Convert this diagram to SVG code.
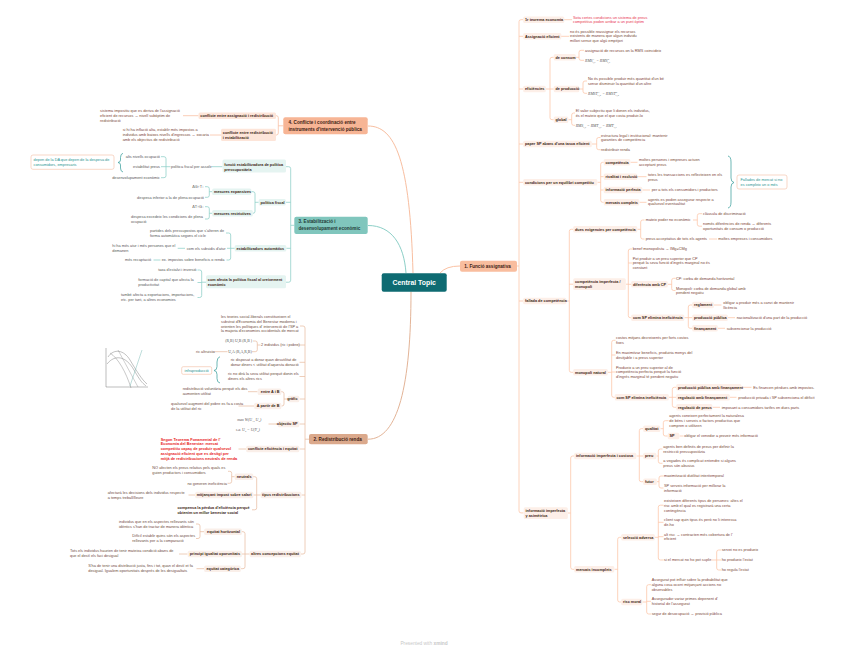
<svg xmlns="http://www.w3.org/2000/svg" width="848" height="650" viewBox="0 0 848 650">
<style>
text{font-family:"Liberation Sans",Arial,sans-serif;}
.lf{font-size:3.85px;fill:#7b4636;}
.lf2{font-size:3.85px;fill:#6e4c40;}
.lf3{font-size:3.85px;fill:#575757;}
.lb{font-size:3.8px;font-weight:bold;fill:#3a1d12;}
.red{font-size:3.85px;fill:#e8354f;}
.red2{font-size:3.85px;font-weight:bold;fill:#e8231c;}
.tl{font-size:3.85px;fill:#2a9490;}
.m{font-family:"Liberation Serif","Times New Roman",serif;font-size:3.9px;font-style:italic;fill:#555;}
.mr{font-family:"Liberation Serif","Times New Roman",serif;font-size:3.9px;fill:#555;}
.nt{font-size:4.6px;font-weight:bold;fill:#3d2014;}
.e{text-anchor:end;}
.c1{fill:none;stroke:#fcc4a5;stroke-width:.75;}
.c2{fill:none;stroke:#e8bea3;stroke-width:.75;}
.c3{fill:none;stroke:#8ccfc7;stroke-width:.75;}
.c4{fill:none;stroke:#f8bea0;stroke-width:.75;}
.br{fill:none;stroke:#2f9a96;stroke-width:.7;}
.bg1{fill:#fdefe8;}
.bg2{fill:#faefe9;}
.bg3{fill:#e5f4f1;}
.bg4{fill:#fde5d9;}
.co{fill:#fff;stroke:#f3bda2;stroke-width:.6;}
</style>
<rect width="848" height="650" fill="#fff"/>

<g id="connectors">
<!-- main curves -->
<path d="M440,273 Q446,266 460,266" fill="none" stroke="#fbc2a4" stroke-width="1"/>
<path d="M368,126 C395,126 410,160 413,273" fill="none" stroke="#f8bea0" stroke-width="1"/>
<path d="M368,225.5 C392,225.5 404,245 406,273" fill="none" stroke="#8ccfc7" stroke-width="1"/>
<path d="M411,291.5 C411,385 398,439.2 368,439.2" fill="none" stroke="#e3b497" stroke-width="1"/>

<!-- branch 1 -->
<path class="c1" d="M523,19.7H521Q519,19.7 519,21.7V510.9Q519,512.9 521,512.9H523.5M519,36.3H523M519,89H523M519,144H523M519,182.3H523M519,301H523M517,266H519"/>
<path class="c1" d="M563,19.7H572M560,36.3H569"/>
<path class="c1" d="M545.5,89H550M553.7,57.3H552Q550,57.3 550,59.3V117.7Q550,119.7 552,119.7H553.7M550,89H553.7"/>
<path class="c1" d="M576,57.3H579M584,50.3H581Q579,50.3 579,52.3V58.3Q579,60.3 581,60.3H584"/>
<path class="c1" d="M579.5,89H583M587,81H585Q583,81 583,83V91.3Q583,93.3 585,93.3H587"/>
<path class="c1" d="M568.5,119.7H571.7M575,113H573.7Q571.7,113 571.7,115V123.3Q571.7,125.3 573.7,125.3H575"/>
<path class="c1" d="M592,144H596.7M600.5,137.5H598.7Q596.7,137.5 596.7,139.5V147.7Q596.7,149.7 598.7,149.7H600.5"/>
<path class="c1" d="M597.5,182.3H600.7M603.7,162.3H602.7Q600.7,162.3 600.7,164.3V200.3Q600.7,202.3 602.7,202.3H603.7M600.7,176.7H603.7M600.7,190H603.7"/>
<path class="c1" d="M630.5,162.3H637.5M637.5,176.7H646.5M642.5,190H650M639.5,202.3H646.5"/>
<path class="c1" d="M566.5,301H569.3M573.2,229.3H571.3Q569.3,229.3 569.3,231.3V370.3Q569.3,372.3 571.3,372.3H573.2M569.3,284.2H573.2"/>
<path class="c1" d="M637.5,229.3H640.7M644.5,220H642.7Q640.7,220 640.7,222V237Q640.7,239 642.7,239H644.5"/>
<path class="c1" d="M693,220H697.3M702,213.7H699.3Q697.3,213.7 697.3,215.7V224.2Q697.3,226.2 699.3,226.2H702M709,239H717"/>
<path class="c1" d="M626,284.2H628.3M632,249H630.3Q628.3,249 628.3,251V315.7Q628.3,317.7 630.3,317.7H631.2M628.3,263H632M628.3,284.3H631.2"/>
<path class="c1" d="M668,284.3H671.7M675.5,278.3H673.7Q671.7,278.3 671.7,280.3V288.5Q671.7,290.5 673.7,290.5H675.5"/>
<path class="c1" d="M684.5,317.7H688.3M692.2,305H690.3Q688.3,305 688.3,307V326.3Q688.3,328.3 690.3,328.3H692.2M688.3,317.7H692.2"/>
<path class="c1" d="M714,305H721.5M728,317.7H735M718,328.3H725"/>
<path class="c1" d="M608,372.3H611.7M615.5,340.3H613.7Q611.7,340.3 611.7,342.3V395.3Q611.7,397.3 613.7,397.3H614.7M611.7,355H615.5M611.7,372H615.5"/>
<path class="c1" d="M669,397.3H672.3M676.2,387.3H674.3Q672.3,387.3 672.3,389.3V405.3Q672.3,407.3 674.3,407.3H676.2M672.3,397.3H676.2"/>
<path class="c1" d="M741.5,387.3H751.5M730,397.3H736.5M712.5,407.3H720"/>
<path class="c1" d="M568,513H570.7M574.2,456H572.7Q570.7,456 570.7,458V567.3Q570.7,569.3 572.7,569.3H574.2"/>
<path class="c1" d="M636.5,456H639.3M643.2,428.7H641.3Q639.3,428.7 639.3,430.7V479.7Q639.3,481.7 641.3,481.7H643.2M639.3,456H643.2"/>
<path class="c1" d="M660.5,428.7H663.3M668.5,420.7H665.3Q663.3,420.7 663.3,422.7V434Q663.3,436 665.3,436H667.7M679.5,436H683.5"/>
<path class="c1" d="M656.5,456H658.3M662.5,449H660.3Q658.3,449 658.3,451V461.3Q658.3,463.3 660.3,463.3H662.5"/>
<path class="c1" d="M657,481.7H659M663.5,476H661Q659,476 659,478V486Q659,488 661,488H663.5"/>
<path class="c1" d="M614.5,569.3H617.7M621.2,537.3H619.7Q617.7,537.3 617.7,539.3V600Q617.7,602 619.7,602H621.2"/>
<path class="c1" d="M655,537.3H658.3M663.5,505.2H660.3Q658.3,505.2 658.3,507.2V558Q658.3,560 660.3,560H663.5M658.3,522.3H663.5M658.3,536.7H663.5"/>
<path class="c1" d="M710,560H716.7M721,550H718.7Q716.7,550 716.7,552V568Q716.7,570 718.7,570H721M716.7,560H721"/>
<path class="c1" d="M642.5,602H646.7M651,584.7H648.7Q646.7,584.7 646.7,586.7V612Q646.7,614 648.7,614H651M646.7,601.3H651"/>

<!-- branch 2 -->
<path class="c2" d="M300,326H303Q305,326 305,328V552Q305,554 303,554H301M305,345H297.5M305,362.3H299.5M305,376.5H299.5M305,399H299.5M305,424H299.5M305,449H299.5M305,495H301.5M309,439.2H305"/>
<path class="c2" d="M253,341H255.3Q257.3,341 257.3,343V349.7Q257.3,351.7 255.3,351.7H252M257.3,345H260.5M213.5,351.7H227.5"/>
<path class="c2" d="M287.7,399H284M280.5,391.7H282Q284,391.7 284,393.7V404Q284,406 282,406H281.5M248,391.7H257.5M238.5,406H254"/>
<path class="c2" d="M268.5,424H277.5M238.5,449H246"/>
<path class="c2" d="M260.7,495H256.7M253,476.7H254.7Q256.7,476.7 256.7,478.7V507.8Q256.7,509.8 254.7,509.8H252M256.7,495H253.5"/>
<path class="c2" d="M234.7,476.7H231.7M228,471.3H229.7Q231.7,471.3 231.7,473.3V481.3Q231.7,483.3 229.7,483.3H227.5M188.5,495H195"/>
<path class="c2" d="M249.7,554H245M241.5,531.7H243Q245,531.7 245,533.7V566.7Q245,568.7 243,568.7H241M245,554H241.5"/>
<path class="c2" d="M204.2,531.7H200M196,524H198Q200,524 200,526V536.5Q200,538.5 198,538.5H196M179,554H187.5M196.5,568.7H204"/>

<!-- branch 3 -->
<path class="c3" d="M294.3,225.3H290.7M286,166.7H288.7Q290.7,166.7 290.7,168.7V280.2Q290.7,282.2 288.7,282.2H286M290.7,202.3H286M290.7,248.3H286.3"/>
<path class="c3" d="M222.5,166.7H212M170.5,166.7H166M161,156.7H164Q166,156.7 166,158.7V175.7Q166,177.7 164,177.7H161M166,166.7H161"/>
<path class="c3" d="M258.7,202.3H255M251.3,191.7H253Q255,191.7 255,193.7V211.3Q255,213.3 253,213.3H252.8"/>
<path class="c3" d="M212.2,191.7H209.3M205,186.7H207.3Q209.3,186.7 209.3,188.7V195.3Q209.3,197.3 207.3,197.3H205"/>
<path class="c3" d="M212.2,213.3H209.3M205,206.7H207.3Q209.3,206.7 209.3,208.7V217Q209.3,219 207.3,219H205"/>
<path class="c3" d="M234.7,248.3H230.7M226,233H228.7Q230.7,233 230.7,235V258Q230.7,260 228.7,260H226.5M230.7,248.3H227M177.7,248.3H185M153.5,260H160.5"/>
<path class="c3" d="M206,282.2H201.7M197.5,270H199.7Q201.7,270 201.7,272V295.5Q201.7,297.5 199.7,297.5H197.5M201.7,282.5H197.5"/>

<!-- branch 4 -->
<path class="c4" d="M283.3,125.8H278.3M276,115.7H276.3Q278.3,115.7 278.3,117.7V133Q278.3,135 276.3,135H276M198.5,115.7H183M221,135H210"/>

<!-- braces -->
<path class="br" d="M123,153.3Q120.5,153.8 120.5,157.5V160Q120.5,162.3 118,162.5Q120.5,162.7 120.5,165V168Q120.5,171.5 123,172"/>
<path class="br" d="M728,156Q731,156.5 731,162V178Q731,182 734,182.5Q731,183 731,187V202Q731,207.5 728,208"/>
<path class="br" d="M220,356.7Q217,357.5 217,362V366.5Q217,370.3 214,370.5Q217,370.7 217,374.5V378.5Q217,382.5 220,383"/>
</g>

<g id="central">
<rect x="381.7" y="273.3" width="65" height="18.4" rx="2" fill="#0e6b72"/>
<text x="414.2" y="284.8" text-anchor="middle" style="font-size:6.9px;font-weight:bold;fill:#fff">Central Topic</text>
</g>

<g id="node1">
<rect x="460" y="260.7" width="57" height="11" rx="2" fill="#f9bd9e"/>
<text class="nt" x="464.3" y="268.3">1. Funció assignativa</text>
</g>
<g id="node2">
<rect x="309" y="434" width="58.7" height="10.3" rx="2" fill="#dba98c"/>
<text class="nt" x="313.5" y="440.9">2. Redistribució renda</text>
</g>
<g id="node3">
<rect x="294.3" y="216.7" width="73.4" height="17.3" rx="2" fill="#80c6bd"/>
<text class="nt" x="298.5" style="fill:#1f3a37"><tspan x="298.5" y="223.3">3. Estabilització i</tspan><tspan x="298.5" y="229.5">desenvolupament econòmic</tspan></text>
</g>
<g id="node4">
<rect x="283.3" y="117.3" width="84.4" height="17" rx="2" fill="#f7b595"/>
<text class="nt"><tspan x="288.5" y="124.3">4. Conflicte i coordinació entre</tspan><tspan x="288.5" y="130.7">instruments d'intervenció pública</tspan></text>
</g>

<g id="branch1">
<rect class="bg1" x="523.2" y="16.5" width="41.1" height="6.4" rx="1.5"/><text class="lb" x="525" y="21.1">1r teorema economia</text>
<text class="red"><tspan x="573" y="18.7">Sota certes condicions un sistema de preus</tspan><tspan x="573" y="23.4">competitius poden arribar a un punt òptim</tspan></text>
<rect class="bg1" x="523.2" y="33.1" width="38.1" height="6.4" rx="1.5"/><text class="lb" x="525" y="37.7">Assignació eficient</text>
<text class="lf"><tspan x="570" y="32.7">no és possible reassignar els recursos</tspan><tspan x="570" y="37.4">existents de manera que algun individu</tspan><tspan x="570" y="42.1">millori sense que algú empitjori</tspan></text>

<rect class="bg1" x="523.2" y="85.8" width="22.6" height="6.4" rx="1.5"/><text class="lb" x="525" y="90.4">eficiències</text>
<rect class="bg1" x="553.7" y="54.1" width="22.1" height="6.4" rx="1.5"/><text class="lb" x="555.5" y="58.7">de consum</text>
<text class="lf" x="585" y="51.7">assignació de recursos on la RMS coincideix</text>
<text class="m" x="585" y="61.7">RMS<tspan font-size="2.5" dy="-1.3">A</tspan><tspan font-size="2.5" dx="-1.7" dy="2.3">x,y</tspan><tspan dy="-1"> = RMS</tspan><tspan font-size="2.5" dy="-1.3">B</tspan><tspan font-size="2.5" dx="-1.7" dy="2.3">x,y</tspan></text>
<rect class="bg1" x="553.7" y="85.8" width="25.6" height="6.4" rx="1.5"/><text class="lb" x="555.5" y="90.4">de producció</text>
<text class="lf"><tspan x="588" y="80.1">No és possible produir més quantitat d'un bé</tspan><tspan x="588" y="84.8">sense disminuir la quantitat d'un altre</tspan></text>
<text class="m" x="588" y="94.7">RMST<tspan font-size="2.5" dy="-1.3">A</tspan><tspan font-size="2.5" dx="-1.7" dy="2.3">L,K</tspan><tspan dy="-1"> = RMST</tspan><tspan font-size="2.5" dy="-1.3">B</tspan><tspan font-size="2.5" dx="-1.7" dy="2.3">L,K</tspan></text>
<rect class="bg1" x="553.7" y="116.5" width="14.6" height="6.4" rx="1.5"/><text class="lb" x="555.5" y="121.1">global</text>
<text class="lf"><tspan x="575.7" y="112.1">El valor subjectiu que li donen els individus,</tspan><tspan x="575.7" y="116.8">és el mateix que el que costa produir-lo</tspan></text>
<text class="m" x="575.7" y="126.7">RMS<tspan font-size="2.5" dy="1">x,y</tspan><tspan dy="-1"> = RMT</tspan><tspan font-size="2.5" dy="1">x,y</tspan><tspan dy="-1"> = RMT</tspan><tspan font-size="2.5" dy="1">x,y</tspan></text>

<rect class="bg1" x="523.2" y="140.8" width="68.6" height="6.4" rx="1.5"/><text class="lb" x="525" y="145.4">paper SP abans d'una tasca eficient</text>
<text class="lf"><tspan x="601" y="136.7">estructura legal i institucional: mantenir</tspan><tspan x="601" y="141.4">garanties de competència</tspan><tspan x="601" y="151.1">redistribuir renda</tspan></text>

<rect class="bg1" x="523.2" y="179.1" width="74.1" height="6.4" rx="1.5"/><text class="lb" x="525" y="183.7">condicions per un equilibri competitiu</text>
<rect class="bg1" x="603.7" y="159.1" width="26.6" height="6.4" rx="1.5"/><text class="lb" x="605.5" y="163.7">competència</text>
<text class="lf"><tspan x="639" y="161.1">moltes persones i empreses actuen</tspan><tspan x="639" y="165.8">acceptant preus</tspan></text>
<rect class="bg1" x="603.7" y="173.5" width="33.6" height="6.4" rx="1.5"/><text class="lb" x="605.5" y="178.1">rivalitat i exclusió</text>
<text class="lf"><tspan x="648" y="176.4">totes les transaccions es reflecteixen en els</tspan><tspan x="648" y="181.1">preus</tspan></text>
<rect class="bg1" x="603.7" y="186.8" width="38.6" height="6.4" rx="1.5"/><text class="lb" x="605.5" y="191.4">informació perfecta</text>
<text class="lf" x="651.7" y="191.4">per a tots els consumidors i productors</text>
<rect class="bg1" x="603.7" y="199.1" width="35.6" height="6.4" rx="1.5"/><text class="lb" x="605.5" y="203.7">mercats complets</text>
<text class="lf"><tspan x="648" y="200.7">agents es poden assegurar respecte a</tspan><tspan x="648" y="205.4">qualsevol eventualitat</tspan></text>
<rect class="co" x="737" y="175" width="50" height="14" rx="2"/>
<text class="tl"><tspan x="740.5" y="181.2">Fallades de mercat si no</tspan><tspan x="740.5" y="185.9">es compleix un o més</tspan></text>

<rect class="bg1" x="523.2" y="297.8" width="43.1" height="6.4" rx="1.5"/><text class="lb" x="525" y="302.4">fallada de competència</text>
<rect class="bg1" x="573.2" y="226.1" width="64.1" height="6.4" rx="1.5"/><text class="lb" x="575" y="230.7">dues exigencies per competència</text>
<text class="lf" x="645.7" y="221.4">mateix poder no econòmic</text>
<text class="lf" x="703" y="215.1">clàusula de discriminació</text>
<text class="lf"><tspan x="703" y="225.4">només diferències de renda → diferents</tspan><tspan x="703" y="230.1">oportunitats de consum o producció</tspan></text>
<text class="lf" x="645.7" y="240.4">preus acceptatius de tots els agents</text>
<text class="lf" x="718.3" y="240.4">moltes empreses i consumidors</text>

<rect class="bg1" x="573.2" y="278.2" width="52.6" height="11.8" rx="1.5"/><text class="lb"><tspan x="575" y="283.1">competència imperfecta /</tspan><tspan x="575" y="288.1">monopoli</tspan></text>
<text class="lf" x="632.7" y="250.4">benef monopolista → IMg=CMg</text>
<text class="lf"><tspan x="632.7" y="259.7">Pot produir a un preu superior que CP</tspan><tspan x="632.7" y="264.4">perquè la seva funció d'ingrés marginal no és</tspan><tspan x="632.7" y="269.1">constant</tspan></text>
<rect class="bg1" x="631.2" y="281.1" width="36.6" height="6.4" rx="1.5"/><text class="lb" x="633" y="285.7">diferència amb CP</text>
<text class="lf" x="676" y="279.7">CP: corba de demanda horitzontal</text>
<text class="lf"><tspan x="676" y="289.7">Monopoli: corba de demanda global amb</tspan><tspan x="676" y="294.4">pendent negatiu</tspan></text>
<rect class="bg1" x="631.2" y="314.5" width="53.1" height="6.4" rx="1.5"/><text class="lb" x="633" y="319.1">com SP elimina ineficiència</text>
<rect class="bg1" x="692.2" y="301.8" width="21.6" height="6.4" rx="1.5"/><text class="lb" x="694" y="306.4">reglament</text>
<text class="lf"><tspan x="723.3" y="304.1">obligar a produir més a canvi de mantenir</tspan><tspan x="723.3" y="308.8">llicència</tspan></text>
<rect class="bg1" x="692.2" y="314.5" width="35.6" height="6.4" rx="1.5"/><text class="lb" x="694" y="319.1">producció pública</text>
<text class="lf" x="736.7" y="319.1">nacionalització d'una part de la producció</text>
<rect class="bg1" x="692.2" y="325.1" width="25.6" height="6.4" rx="1.5"/><text class="lb" x="694" y="329.7">finançament</text>
<text class="lf" x="726.7" y="329.7">subvencionar la producció</text>

<rect class="bg1" x="573.2" y="369.1" width="34.6" height="6.4" rx="1.5"/><text class="lb" x="575" y="373.7">monopoli natural</text>
<text class="lf"><tspan x="616" y="339.4">costos mitjans decreixents per forts costos</tspan><tspan x="616" y="344.1">fixes</tspan></text>
<text class="lf"><tspan x="616" y="354.1">En maximitzar beneficis, produiria menys del</tspan><tspan x="616" y="358.8">desitjable i a preus superior</tspan></text>
<text class="lf"><tspan x="616" y="368.7">Produeix a un preu superior al de</tspan><tspan x="616" y="373.4">competència perfecta perquè la funció</tspan><tspan x="616" y="378.1">d'ingrés marginal té pendent negatiu</tspan></text>
<rect class="bg1" x="614.7" y="394.1" width="54.1" height="6.4" rx="1.5"/><text class="lb" x="616.5" y="398.7">com SP elimina ineficiència</text>
<rect class="bg1" x="676.2" y="384.1" width="65.1" height="6.4" rx="1.5"/><text class="lb" x="678" y="388.7">producció pública amb finançament</text>
<text class="lf" x="753.3" y="388.7">Es financen pèrdues amb impostos.</text>
<rect class="bg1" x="676.2" y="394.1" width="53.6" height="6.4" rx="1.5"/><text class="lb" x="678" y="398.7">regulació amb finançament</text>
<text class="lf" x="738.3" y="398.7">producció privada i SP subvenciona el dèficit</text>
<rect class="bg1" x="676.2" y="404.1" width="36.1" height="6.4" rx="1.5"/><text class="lb" x="678" y="408.7">regulació de preus</text>
<text class="lf" x="721.7" y="408.7">imposant a consumidors tarifes en dues parts</text>

<rect class="bg1" x="523.7" y="507.2" width="44.1" height="11.8" rx="1.5"/><text class="lb"><tspan x="525.5" y="512.1">informació imperfecta</tspan><tspan x="525.5" y="517.1">y asimètrica</tspan></text>
<rect class="bg1" x="574.2" y="452.8" width="62.1" height="6.4" rx="1.5"/><text class="lb" x="576" y="457.4">informació imperfecta i costosa</text>
<rect class="bg1" x="643.2" y="425.5" width="17.1" height="6.4" rx="1.5"/><text class="lb" x="645" y="430.1">qualitat</text>
<text class="lf"><tspan x="669.3" y="417.4">agents coneixen perfectament la naturalesa</tspan><tspan x="669.3" y="422.1">de béns i serveis o factors productius que</tspan><tspan x="669.3" y="426.8">compren o utilitzen</tspan></text>
<rect class="bg1" x="667.7" y="432.8" width="11.6" height="6.4" rx="1.5"/><text class="lb" x="669.5" y="437.4">SP</text>
<text class="lf" x="684.3" y="437.4">obligar el venedor a proveir més informació</text>
<rect class="bg1" x="643.2" y="452.8" width="13.1" height="6.4" rx="1.5"/><text class="lb" x="645" y="457.4">preu</text>
<text class="lf"><tspan x="663.3" y="448.1">agents ben definits de preus per definir la</tspan><tspan x="663.3" y="452.8">restricció pressupostària</tspan></text>
<text class="lf"><tspan x="663.3" y="462.4">a vegades és complicat entendre si alguns</tspan><tspan x="663.3" y="467.1">preus són abusius</tspan></text>
<rect class="bg1" x="643.2" y="478.5" width="13.6" height="6.4" rx="1.5"/><text class="lb" x="645" y="483.1">futur</text>
<text class="lf" x="664" y="477.4">maximització dutilitat interitemporal</text>
<text class="lf"><tspan x="664" y="487.1">SP serveis informació per millorar la</tspan><tspan x="664" y="491.8">informació</tspan></text>

<rect class="bg1" x="574.2" y="566.1" width="40.1" height="6.4" rx="1.5"/><text class="lb" x="576" y="570.7">mercats incomplets</text>
<rect class="bg1" x="621.2" y="534.1" width="33.6" height="6.4" rx="1.5"/><text class="lb" x="623" y="538.7">selecció adversa</text>
<text class="lf"><tspan x="664" y="502.1">existeixen diferents tipus de persones: altes el</tspan><tspan x="664" y="506.8">risc amb el qual es registrarà una certa</tspan><tspan x="664" y="511.5">contingència</tspan></text>
<text class="lf"><tspan x="664" y="521.4">client sap quin tipus és però no li interessa</tspan><tspan x="664" y="526.1">dir-ho</tspan></text>
<text class="lf"><tspan x="664" y="535.7">alt risc → contracten més cobertura de l'</tspan><tspan x="664" y="540.4">eficient</tspan></text>
<text class="lf" x="664" y="561.4">si el mercat no ho pot suplir</text>
<text class="lf" x="721.7" y="551.4">servei no es produeix</text>
<text class="lf" x="721.7" y="561.4">ho produeix l'estat</text>
<text class="lf" x="721.7" y="571.4">ho regula l'estat</text>
<rect class="bg1" x="621.2" y="598.8" width="21.1" height="6.4" rx="1.5"/><text class="lb" x="623" y="603.4">risc moral</text>
<text class="lf"><tspan x="651.7" y="581.4">Assegurat pot influir sobre la probabilitat que</tspan><tspan x="651.7" y="586.1">alguna cosa ocorri mitjançant accions no</tspan><tspan x="651.7" y="590.8">observables</tspan></text>
<text class="lf"><tspan x="651.7" y="600.4">Assegurador variar primes depenent d'</tspan><tspan x="651.7" y="605.1">historial de l'assegurat</tspan></text>
<text class="lf" x="651.7" y="615.4">segur de desocupació → provisió pública</text>
</g>

<g id="branch2">
<text class="lf2"><tspan x="221" y="318.1">les teories social-liberals constitueixen el</tspan><tspan x="221" y="322.8">substrat d'Economia del Benestar moderna i</tspan><tspan x="221" y="327.5">orienten les polítiques d' intervenció de l'SP a</tspan><tspan x="221" y="332.2">la majoria d'economies occidentals de mercat</tspan></text>
<text class="lf2" x="261" y="346.4">2 individus (ric i pobre)</text>
<text class="mr e" x="252" y="342.4">(R,B)  U,B (R,B )</text>
<text class="lf2" x="196" y="353.1">ric altruista</text>
<text class="mr" x="228.3" y="353.1">U,A  (R,A,R,B)</text>
<text class="lf2"><tspan x="230.7" y="361.4">ric disposat a donar quan desutilitat de</tspan><tspan x="230.7" y="366.1">donar diners &lt; utilitat d'aquesta donació</tspan></text>
<rect class="co" x="181.7" y="366.7" width="30" height="7.6" rx="1.5"/>
<text class="tl" x="196.7" y="371.9" text-anchor="middle">infraproducció</text>
<text class="lf2"><tspan x="228" y="375.4">ric no dirà la seva utilitat perquè donin els</tspan><tspan x="228" y="380.1">diners els altres rics</tspan></text>

<rect class="bg2" x="287.7" y="395.8" width="11.6" height="6.4" rx="1.5"/><text class="lb e" x="297.5" y="400.4">gràfic</text>
<rect class="bg2" x="257.7" y="388.5" width="23.6" height="6.4" rx="1.5"/><text class="lb e" x="279.5" y="393.1">entre A i B</text>
<text class="lf2"><tspan x="182.7" y="390.1">redistribució voluntària perquè els dos</tspan><tspan x="182.7" y="394.8">aumenten utilitat</tspan></text>
<rect class="bg2" x="254.2" y="402.8" width="27.1" height="6.4" rx="1.5"/><text class="lb e" x="279.5" y="407.4">A partir de B</text>
<text class="lf2"><tspan x="171" y="404.8">qualsevol augment del pobre es fa a costa</tspan><tspan x="171" y="409.6">de la utilitat del ric</tspan></text>

<rect class="bg2" x="277.7" y="420.8" width="21.6" height="6.4" rx="1.5"/><text class="lb e" x="297.5" y="425.4">objectiu SP</text>
<text class="m" x="237.3" y="420.9">max W(U<tspan font-size="2.5" dy="1">A</tspan><tspan dy="-1">, U</tspan><tspan font-size="2.5" dy="1">B</tspan><tspan dy="-1">)</tspan></text>
<text class="m" x="235.7" y="430.5">s.a. U<tspan font-size="2.5" dy="1">2</tspan><tspan dy="-1"> = U(Y</tspan><tspan font-size="2.5" dy="1">B</tspan><tspan dy="-1">)</tspan></text>

<rect class="bg2" x="246.2" y="445.8" width="53.1" height="6.4" rx="1.5"/><text class="lb e" x="297.5" y="450.4">conflicte eficiència i equitat</text>
<text class="red2"><tspan x="160.7" y="440.7">Segon Teorema Fonamental de l'</tspan><tspan x="160.7" y="445.4">Economia del Benestar: mercat</tspan><tspan x="160.7" y="450.1">competitiu capaç de produir qualsevol</tspan><tspan x="160.7" y="454.8">assignació eficient que es desitgi per</tspan><tspan x="160.7" y="459.5">mitjà de redistribucions neutrals de renda</tspan></text>

<rect class="bg2" x="260.7" y="491.8" width="40.6" height="6.4" rx="1.5"/><text class="lb e" x="299.5" y="496.4">tipus redistribucions</text>
<rect class="bg2" x="234.7" y="473.5" width="18.6" height="6.4" rx="1.5"/><text class="lb e" x="251.5" y="478.1">neutrals</text>
<text class="lf2"><tspan x="152.3" y="469.4">NO afecten els preus relatius pels quals es</tspan><tspan x="152.3" y="474.1">guien productors i consumidors</tspan></text>
<text class="lf2 e" x="227" y="484.7">no generen ineficiència</text>
<rect class="bg2" x="195.2" y="491.8" width="58.1" height="6.4" rx="1.5"/><text class="lb e" x="251.5" y="496.4">mitjançant impost sobre salari</text>
<text class="lf2"><tspan x="107.7" y="494.1">afectarà les decisions dels individus respecte</tspan><tspan x="107.7" y="498.9">a temps treball/lleure</tspan></text>
<text class="lb"><tspan x="177.5" y="509">compensa la pèrdua d'eficiència perquè</tspan><tspan x="177.5" y="513.7">obtenim un millor benestar social</tspan></text>

<rect class="bg2" x="249.7" y="550.8" width="51.1" height="6.4" rx="1.5"/><text class="lb e" x="299" y="555.4">altres concepcions equitat</text>
<rect class="bg2" x="204.2" y="528.5" width="37.6" height="6.4" rx="1.5"/><text class="lb e" x="240" y="533.1">equitat horitzontal</text>
<text class="lf2"><tspan x="119" y="523.1">individus que en els aspectes rellevants són</tspan><tspan x="119" y="527.8">idèntics s'han de tractar de manera idèntica</tspan></text>
<text class="lf2"><tspan x="132.3" y="537.4">Difícil establir quins són els aspectes</tspan><tspan x="132.3" y="542.2">rellevants per a la comparació</tspan></text>
<rect class="bg2" x="187.7" y="550.8" width="54.1" height="6.4" rx="1.5"/><text class="lb e" x="240" y="555.4">principi igualtat oporunitats</text>
<text class="lf2"><tspan x="70" y="552.1">Tots els individus haurien de tenir mateixa condició abans de</tspan><tspan x="70" y="556.9">que el destí els faci desigual</tspan></text>
<rect class="bg2" x="204.2" y="565.5" width="36.6" height="6.4" rx="1.5"/><text class="lb e" x="239" y="570.1">equitat categòrica</text>
<text class="lf2"><tspan x="88.3" y="567.1">S'ha de tenir una distribució justa, fins i tot, quan el destí et fa</tspan><tspan x="88.3" y="571.9">desigual. Igualem oportunitats després de les desigualtats</tspan></text>

<g id="grafic-imatge" fill="none" stroke-width=".4">
<path d="M106,348V387H148" stroke="#555"/>
<path d="M108,357C114,348 124,350 130,360S142,380 147,384" stroke="#666"/>
<path d="M107,364C115,354 126,356 134,370S143,383 146,386" stroke="#666"/>
<path d="M110,353C118,358 126,372 131,388" stroke="#777"/>
<path d="M118,350L138,387" stroke="#888"/>
<path d="M142,350L130,386" stroke="#5aa9a5"/>
</g>
</g>

<g id="branch3">
<rect class="bg3" x="222.5" y="159.5" width="63.5" height="13" rx="1.5"/>
<text class="lb"><tspan x="224.3" y="165.5">funció estabilitzadora de política</tspan><tspan x="224.3" y="170.6">pressupostària</tspan></text>
<text class="lf3" x="171" y="168.1">política fiscal per assolir</text>
<text class="lf3 e" x="160" y="158.1">alts nivells ocupació</text>
<text class="lf3 e" x="160" y="168.1">estabilitat preus</text>
<text class="lf3 e" x="160" y="179.1">desenvolupament econòmic</text>
<rect class="co" x="31" y="155" width="83" height="14.3" rx="2"/>
<text class="tl"><tspan x="33.5" y="161.4">depen de la DA que depen de la despesa de</tspan><tspan x="33.5" y="166.1">consumidors, empresaris</tspan></text>

<rect class="bg3" x="258.7" y="199.1" width="27.1" height="6.4" rx="1.5"/><text class="lb" x="260.5" y="203.7">política fiscal</text>
<rect class="bg3" x="212.2" y="188.5" width="39.1" height="6.4" rx="1.5"/><text class="lb" x="214" y="193.1">mesures expansives</text>
<text class="lf3 e" x="204" y="188.1">ΔG↑T↓</text>
<text class="lf3 e" x="204" y="198.7">despesa inferior a la de plena ocupació</text>
<rect class="bg3" x="212.2" y="210.1" width="40.6" height="6.4" rx="1.5"/><text class="lb" x="214" y="214.7">mesures restrictives</text>
<text class="lf3 e" x="204" y="208.1">ΔT↑G↓</text>
<text class="lf3"><tspan x="131" y="218.1">despesa excedeix les condicions de plena</tspan><tspan x="131" y="222.8">ocupació</tspan></text>

<rect class="bg3" x="234.7" y="245.1" width="51.6" height="6.4" rx="1.5"/><text class="lb" x="236.5" y="249.7">estabilitzadors automàtics</text>
<text class="lf3"><tspan x="150" y="232.1">partides dels pressupostos que s'alteren de</tspan><tspan x="150" y="236.8">forma automàtica segons el cicle</tspan></text>
<text class="lf3" x="186.7" y="249.7">com els subsidis d'atur</text>
<text class="lf3"><tspan x="112.3" y="247.1">hi ha més atur i més persones que el</tspan><tspan x="112.3" y="251.8">demanen</tspan></text>
<text class="lf3" x="161.7" y="261.4">ex. impostos sobre beneficis o renda</text>
<text class="lf3" x="125" y="261.4">més recaptació</text>

<rect class="bg3" x="206" y="275.3" width="80" height="13" rx="1.5"/>
<text class="lb"><tspan x="207.8" y="280.7">com afecta la política fiscal al creixement</tspan><tspan x="207.8" y="285.9">econòmic</tspan></text>
<text class="lf3 e" x="196.5" y="271.4">taxa d'estalvi i inversió</text>
<text class="lf3"><tspan x="138.3" y="281.4">formació de capital que afecta la</tspan><tspan x="138.3" y="286.1">productivitat</tspan></text>
<text class="lf3"><tspan x="121" y="296.4">també afecta a exportacions, importacions,</tspan><tspan x="121" y="301.1">etc. per tant, a altres economies</tspan></text>
</g>

<g id="branch4">
<rect class="bg4" x="198.5" y="112.5" width="77.5" height="6.4" rx="1.5"/><text class="lb" x="200.3" y="117.1">conflicte entre assignació i redistribució</text>
<text class="lf"><tspan x="100" y="112.4">sistema impositiu que es deriva de l'assignació</tspan><tspan x="100" y="117.1">eficient de recursos → nivell subòptim de</tspan><tspan x="100" y="121.8">redistribució</tspan></text>
<rect class="bg4" x="221" y="128.7" width="55" height="12.4" rx="1.5"/>
<text class="lb"><tspan x="222.8" y="133.8">conflicte entre redistribució</tspan><tspan x="222.8" y="138.9">i estabilització</tspan></text>
<text class="lf"><tspan x="122.7" y="131.4">si hi ha inflació alta, establir més impostos a</tspan><tspan x="122.7" y="136.1">individus amb baixos nivells d'ingressos → xocaria</tspan><tspan x="122.7" y="140.8">amb els objectius de redistribució</tspan></text>
</g>

<text x="424" y="644.5" text-anchor="middle" style="font-size:4.8px;fill:#c8c8c8">Presented with <tspan font-weight="bold">xmind</tspan></text>
</svg>
